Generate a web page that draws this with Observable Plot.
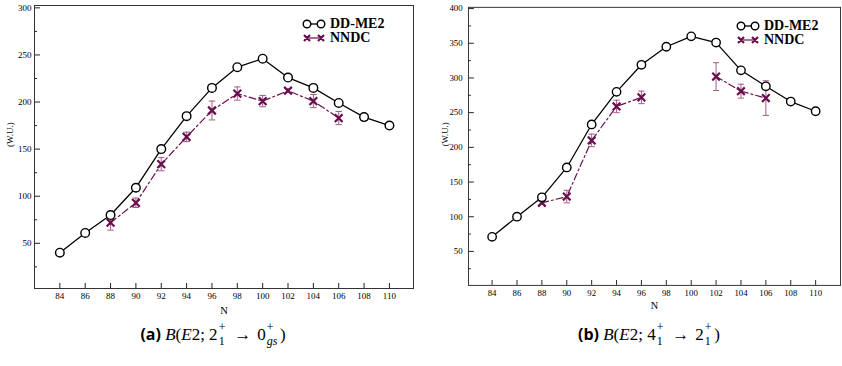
<!DOCTYPE html>
<html><head><meta charset="utf-8">
<script src="https://cdn.jsdelivr.net/npm/d3@7"></script>
<script src="https://cdn.jsdelivr.net/npm/@observablehq/plot@0.6"></script>
<style>
html,body{margin:0;padding:0;background:#fff;}
#wrap{position:relative;width:842px;height:366px;overflow:hidden;background:#fff;}
.panel{position:absolute;top:0;}
.panel svg{overflow:visible;}
.leg{position:absolute;font:bold 14px "Liberation Serif",serif;color:#000;display:flex;align-items:center;height:12px;line-height:12px;white-space:nowrap;}
.leg svg{margin-right:4px;overflow:visible;}
.cap{position:absolute;top:322px;width:320px;text-align:center;font:17px "Liberation Serif",serif;color:#000;white-space:nowrap;line-height:24px;}
.cap b{font-family:"Open Sans",sans-serif;font-weight:700;font-size:16px;}
.ss{display:inline-block;position:relative;width:0.8em;height:1em;font-size:12px;line-height:12px;margin-left:1px;vertical-align:baseline;}
.ss .sp{position:absolute;left:0;top:-0.55em;}
.ss .sb{position:absolute;left:0;top:0.55em;}
.arr{margin:0 6px;}
</style></head>
<body><div id="wrap"></div>
<script>
// Neutron numbers
const N = [84, 86, 88, 90, 92, 94, 96, 98, 100, 102, 104, 106, 108, 110];
const nndcN = [88, 90, 92, 94, 96, 98, 100, 102, 104, 106];

// (a) B(E2; 2+ -> 0+)
const ddA = [40, 61, 80, 109, 150, 185, 215, 237, 246, 226, 215, 199, 184, 175];
const nndcA = [72, 93, 134, 163, 191, 209, 201, 212, 201, 183];
const errA = [8, 5, 7, 5, 10, 7, 6, 2, 7, 7];

// (b) B(E2; 4+ -> 2+)
const ddB = [71, 100, 128, 171, 233, 280, 319, 345, 360, 351, 311, 288, 266, 252];
const nndcB = [120, 129, 210, 259, 272, null, null, 302, 281, 271];
const errB = [2, 9, 9, 9, 9, null, null, 20, 10, 25];

const xTicks = [84, 86, 88, 90, 92, 94, 96, 98, 100, 102, 104, 106, 108, 110];
const yTicksA = [50, 100, 150, 200, 250, 300];
const yMinorA = [25, 75, 125, 175, 225, 275];
const yTicksB = [50, 100, 150, 200, 250, 300, 350, 400];
const yMinorB = [25, 75, 125, 175, 225, 275, 325, 375];

const seriesNames = ["DD-ME2", "NNDC"];
const nnColor = "#6a0d4c";
const errColor = "#a05a88";

const hcap = {draw(ctx, size) { const r = Math.sqrt(size / Math.PI); ctx.moveTo(-r, 0); ctx.lineTo(r, 0); }};

function panel(o) {
  const dd = N.map((n, i) => ({n, v: o.dd[i]}));
  const nn = nndcN.map((n, i) => ({n, v: o.nn[i] == null ? NaN : o.nn[i], e: o.err[i]}));
  const nnDef = nn.filter(d => Number.isFinite(d.v));
  return Plot.plot({
    width: o.width, height: o.height,
    marginLeft: o.marginLeft, marginRight: o.marginRight, marginTop: o.marginTop, marginBottom: o.marginBottom,
    x: {domain: o.xDomain, label: null},
    y: {domain: o.yDomain, label: null},
    style: {fontFamily: "'Liberation Serif', serif", fontSize: "9px", color: "#000", background: "transparent"},
    marks: [
      Plot.axisY(o.yTicks, {anchor: "left", tickSize: -6, tickFormat: () => "", label: null, stroke: "#222"}),
      Plot.axisY(o.yMinor, {anchor: "left", tickSize: -3, tickFormat: () => "", label: null, stroke: "#222"}),
      Plot.axisY(o.yTicks, {anchor: "left", tickSize: 0, tickPadding: o.yPad, label: null}),
      Plot.axisX(xTicks, {anchor: "bottom", tickSize: -5, tickFormat: () => "", label: null, stroke: "#222"}),
      Plot.axisX(xTicks, {anchor: "bottom", tickSize: 0, tickPadding: 4, label: null}),
      Plot.frame({stroke: "#333", strokeWidth: 1}),
      Plot.text(["N"], {frameAnchor: "bottom", dy: o.nDy, fontSize: 10.5}),
      Plot.text(["(W.U.)"], {frameAnchor: "left", dx: -24, rotate: -90, fontSize: 9}),
      Plot.ruleX(nnDef, {x: "n", y1: d => d.v - d.e, y2: d => d.v + d.e, stroke: errColor, strokeWidth: 1}),
      Plot.dot(nnDef, {x: "n", y: d => d.v + d.e, symbol: hcap, r: 3.2, stroke: errColor, strokeWidth: 1}),
      Plot.dot(nnDef, {x: "n", y: d => d.v - d.e, symbol: hcap, r: 3.2, stroke: errColor, strokeWidth: 1}),
      Plot.line(nn, {x: "n", y: "v", stroke: nnColor, strokeWidth: 1.2, strokeDasharray: "7,3,2,3"}),
      Plot.dot(nnDef, {x: "n", y: "v", symbol: "times", r: 3.6, stroke: nnColor, strokeWidth: 2.2}),
      Plot.line(dd, {x: "n", y: "v", stroke: "#000", strokeWidth: 1.3}),
      Plot.dot(dd, {x: "n", y: "v", r: 4.3, fill: "#fff", stroke: "#000", strokeWidth: 1.4})
    ]
  });
}

const wrap = document.getElementById("wrap");

function addPanel(left, o) {
  const d = document.createElement("div");
  d.className = "panel";
  d.style.left = left + "px";
  d.appendChild(panel(o));
  wrap.appendChild(d);
}

addPanel(0, {dd: ddA, nn: nndcA, err: errA, width: 420, height: 310, marginLeft: 34, marginRight: 7,
  marginTop: 5, marginBottom: 22, xDomain: [82, 111.9], yDomain: [2, 302.5], yTicks: yTicksA, yMinor: yMinorA, yPad: 3, nDy: 25});
addPanel(420, {dd: ddB, nn: nndcB, err: errB, width: 431, height: 310, marginLeft: 49, marginRight: 2,
  marginTop: 7, marginBottom: 19, xDomain: [82.1, 112], yDomain: [1, 401.8], yTicks: yTicksB, yMinor: yMinorB, yPad: 6, nDy: 24});

function legendRow(x, y, name, kind) {
  const row = document.createElement("div");
  row.className = "leg";
  row.style.left = x + "px";
  row.style.top = (y - 6) + "px";
  const ns = "http://www.w3.org/2000/svg";
  const s = document.createElementNS(ns, "svg");
  s.setAttribute("width", 24); s.setAttribute("height", 12);
  if (kind === 0) {
    s.innerHTML = '<line x1="5" y1="6" x2="19" y2="6" stroke="#000" stroke-width="1.3"/>' +
      '<circle cx="5" cy="6" r="3.8" fill="#fff" stroke="#000" stroke-width="1.4"/>' +
      '<circle cx="19" cy="6" r="3.8" fill="#fff" stroke="#000" stroke-width="1.4"/>';
  } else {
    const c = nnColor;
    s.innerHTML = '<line x1="5" y1="6" x2="19" y2="6" stroke="' + c + '" stroke-width="1.2"/>' +
      '<path d="M2,3L8,9M8,3L2,9M16,3L22,9M22,3L16,9" stroke="' + c + '" stroke-width="2.2"/>';
  }
  row.appendChild(s);
  const t = document.createElement("span");
  t.textContent = name;
  row.appendChild(t);
  wrap.appendChild(row);
}
legendRow(302, 24, seriesNames[0], 0);
legendRow(302, 38, seriesNames[1], 1);
legendRow(736, 26, seriesNames[0], 0);
legendRow(736, 40, seriesNames[1], 1);

function caption(cx, html) {
  const c = document.createElement("div");
  c.className = "cap";
  c.style.left = (cx - 160) + "px";
  c.innerHTML = html;
  wrap.appendChild(c);
}
caption(213, '<b>(a)</b> <i>B</i>(<i>E</i>2; 2<span class="ss"><span class="sp">+</span><span class="sb">1</span></span><span class="arr">→</span>0<span class="ss" style="width:1.1em"><span class="sp">+</span><span class="sb"><i>gs</i></span></span>)');
caption(649, '<b>(b)</b> <i>B</i>(<i>E</i>2; 4<span class="ss"><span class="sp">+</span><span class="sb">1</span></span><span class="arr">→</span>2<span class="ss"><span class="sp">+</span><span class="sb">1</span></span>)');
</script>
</body></html>
